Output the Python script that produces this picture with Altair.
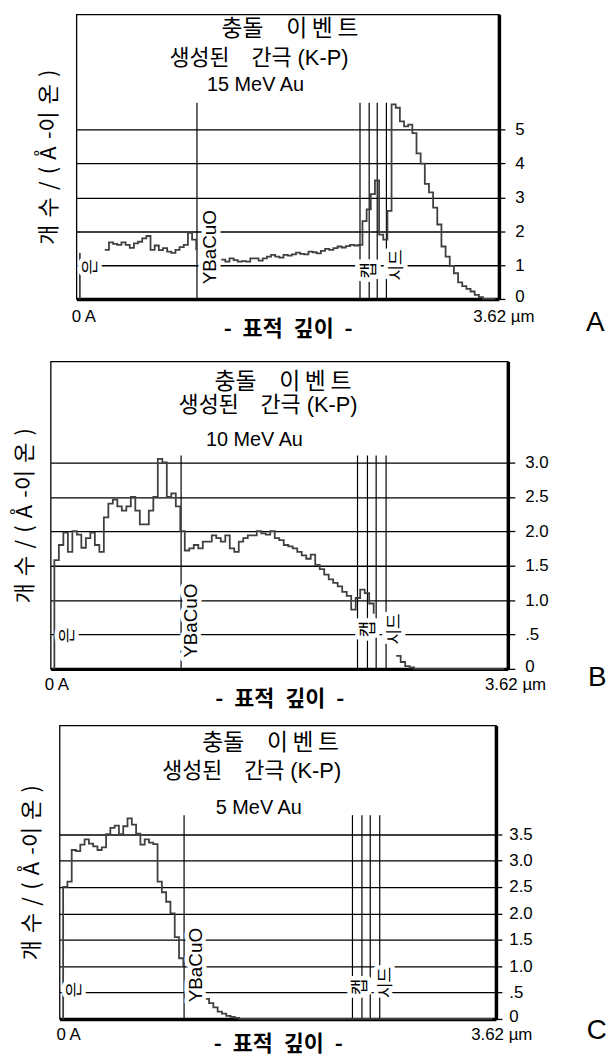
import altair as alt
import pandas as pd

DEPTH_MAX = 3.62
N_BINS = 100
BIN_W = DEPTH_MAX / N_BINS

# ---- histogram values (vacancies per Angstrom-ion), 100 depth bins; None = hidden under a label
a_vals = [1.36, None, None, None, None, None, 1.45, 1.67, 1.63, 1.60,
          1.67, 1.60, 1.51, 1.64, 1.69, 1.79, 1.86, 1.45, 1.58, 1.44,
          1.50, 1.40, 1.36, 1.45, 1.53, 1.60, 1.95, 1.75, 1.44, None,
          None, None, None, None, 1.16, 1.10, 1.20, 1.15, 1.10, 1.12,
          1.10, 1.20, 1.20, 1.13, 1.20, 1.25, 1.30, 1.25, 1.22, 1.30,
          1.28, 1.32, 1.37, 1.33, 1.32, 1.40, 1.38, 1.35, 1.42, 1.48,
          1.45, 1.50, 1.55, 1.52, 1.56, 1.60, 1.58, 1.60, 2.30, 2.65,
          3.10, 3.50, 1.90, 1.75, 2.60, 5.75, 5.65, 5.25, 5.10, 5.15,
          4.90, 4.30, 4.00, 3.40, 3.15, 2.70, 2.20, 1.55, 1.25, 0.98,
          0.76, 0.49, 0.38, 0.30, 0.22, 0.12, 0.05, 0.0, 0.0, 0.0]

b_vals = [1.58, 1.80, 1.98, 1.70, 2.00, 1.95, 1.76, 1.90, 1.98, 1.80,
          1.70, 2.20, 2.40, 2.46, 2.36, 2.30, 2.36, 2.50, 2.30, 2.10,
          2.10, 2.30, 2.50, 3.05, 3.00, 2.50, 2.55, 2.36, 2.00, 1.72,
          1.75, 1.80, 1.75, 1.85, 1.85, 1.94, 1.90, 1.85, 1.94, 1.75,
          1.70, 1.85, 1.90, 1.94, 1.94, 2.00, 1.97, 1.95, 2.00, 1.90,
          1.87, 1.80, 1.78, 1.75, 1.70, 1.65, 1.60, 1.66, 1.51, 1.45,
          1.37, 1.30, 1.25, 1.20, 1.12, 1.06, 0.86, 1.03, 1.15, 1.10,
          0.95, 0.80, None, None, None, None, 0.19, 0.10, 0.04, 0.02,
          0.0, 0.0, 0.0, 0.0, 0.0, 0.0, 0.0, 0.0, 0.0, 0.0,
          0.0, 0.0, 0.0, 0.0, 0.0, 0.0, 0.0, 0.0, 0.0, 0.0]

c_vals = [2.50, 2.60, 3.20, 3.18, 3.30, 3.40, 3.32, 3.27, 3.20, 3.25,
          3.50, 3.62, 3.66, 3.50, 3.65, 3.80, 3.68, 3.51, 3.30, 3.40,
          3.34, 3.31, 2.60, 2.40, 2.22, 2.00, 1.55, 1.15, 1.00, None,
          None, None, None, 0.38, 0.30, 0.22, 0.14, 0.10, 0.06, 0.04,
          0.02, 0.0, 0.0, 0.0, 0.0, 0.0, 0.0, 0.0, 0.0, 0.0,
          0.0, 0.0, 0.0, 0.0, 0.0, 0.0, 0.0, 0.0, 0.0, 0.0,
          0.0, 0.0, 0.0, 0.0, 0.0, 0.0, 0.0, 0.0, 0.0, 0.0,
          0.0, 0.0, 0.0, 0.0, 0.0, 0.0, 0.0, 0.0, 0.0, 0.0,
          0.0, 0.0, 0.0, 0.0, 0.0, 0.0, 0.0, 0.0, 0.0, 0.0,
          0.0, 0.0, 0.0, 0.0, 0.0, 0.0, 0.0, 0.0, 0.0, 0.0]

# ---- layer boundaries (um) and the height the boundary lines reach
layer_bounds = [1.02, 2.44, 2.52, 2.59, 2.67]
a_bound_top, b_bound_top, c_bound_top = 5.8, 3.1, 3.86

# ---- layer labels
layer_names = ["은", "YBaCuO", "캡", "시드"]
layer_sizes = [17, 19, 18, 17]
a_lab_x = [0.10, 1.13, 2.53, 2.76]
a_lab_y = [0.95, 1.53, 0.85, 1.00]
b_lab_x = [0.11, 1.10, 2.53, 2.74]
b_lab_y = [0.49, 0.70, 0.58, 0.58]
c_lab_x = [0.10, 1.12, 2.51, 2.72]
c_lab_y = [0.56, 1.02, 0.61, 0.69]

# ---- in-plot titles
title_line1 = "충돌\u2003이\u2009벤\u2009트"
title_line2 = "생성된\u2003간극 (K-P)"
energies = ["15 MeV Au", "10 MeV Au", "5 MeV Au"]
title_sizes = [23, 22, 20]
a_title_x = [1.83, 1.56, 1.53]
a_title_y = [7.97, 7.13, 6.33]
b_title_x = [1.84, 1.72, 1.61]
b_title_y = [4.17, 3.84, 3.33]
c_title_x = [1.75, 1.59, 1.65]
c_title_y = [5.22, 4.70, 3.99]

y_title = "개\u2004수\u2004/\u2004(\u2004Å\u2004-이\u2004온\u2004)"
x_title = "-\u2002표적\u2002깊이\u2002-"

# ---- axis ticks
a_ticks = [0, 1, 2, 3, 4, 5]
b_ticks = [0, 0.5, 1.0, 1.5, 2.0, 2.5, 3.0]
c_ticks = [0, 0.5, 1.0, 1.5, 2.0, 2.5, 3.0, 3.5]

panel_letters = ["A", "B", "C"]
letter_x = [4.49, 4.37, 4.50]
letter_y = [-0.70, -0.13, -0.225]

SANS = "Liberation Sans, Noto Sans CJK KR"
KR = "Noto Sans CJK KR"
X_DOMAIN = [-0.03, 3.65]


def series_table(vals):
    rows = [dict(i=0, x=0.0, v=0.0, seg=0)]
    seg, k, gap = 0, 1, False
    for b, v in enumerate(vals):
        if v is None:
            if not gap:
                seg += 1
            gap = True
            continue
        gap = False
        rows.append(dict(i=k, x=b * BIN_W, v=v, seg=seg))
        k += 1
    rows.append(dict(i=k, x=DEPTH_MAX, v=vals[-1], seg=seg))
    return pd.DataFrame(rows)


def panel(vals, bound_top, ticks, ymax, width, height, lab_x, lab_y,
          title_x, title_y, energy, letter, lx, ly, tick_size, lab_pad,
          xlab_pad, xtitle_y, off0, off1, one_decimal, ytitle_pad):
    xs = alt.Scale(domain=X_DOMAIN, nice=False, zero=False)
    ys = alt.Scale(domain=[0, ymax], nice=False, zero=False)
    x_axis = alt.Axis(
        values=[0, DEPTH_MAX],
        labelExpr="datum.value == 0 ? '0 A' : '3.62 µm'",
        labelFont="Liberation Sans", labelFontSize=17, labelColor="black",
        labelPadding=xlab_pad, labelFlush=False,
        labelOffset={"condition": {"test": "datum.value > 1", "value": off1}, "value": off0},
        ticks=False, tickSize=0, grid=False,
        domain=True, domainColor="black", domainWidth=3.5,
        title=x_title, titleFont=KR, titleFontSize=22, titleFontWeight="bold",
        titleColor="black", titleY=xtitle_y, titleBaseline="middle")
    lab_expr = ("datum.value == 0 ? '0' : (datum.value == 0.5 ? '.5' : format(datum.value, '.1f'))"
                if one_decimal else "format(datum.value, 'd')")
    right_axis = alt.Axis(
        orient="right", values=ticks, labelExpr=lab_expr,
        grid=True, gridColor="black", gridWidth=1.3, gridOpacity=1,
        ticks=True, tickSize=tick_size, tickColor="black", tickWidth=1.3,
        domain=True, domainColor="black", domainWidth=3.5,
        labelFont="Liberation Sans", labelFontSize=17, labelColor="black",
        labelPadding=lab_pad, labelFlush=False, labelOverlap=False,
        labelOffset={"condition": {"test": "datum.value == 0", "value": -2}, "value": 0},
        title=None)
    left_axis = alt.Axis(
        orient="left", title=y_title, labels=False, ticks=False,
        domain=False, grid=False, minExtent=0, titlePadding=ytitle_pad,
        titleFont=KR, titleFontSize=22, titleFontWeight="normal", titleColor="black")

    def X(f):
        return alt.X(f, type="quantitative", scale=xs, axis=x_axis)

    line = alt.Chart(series_table(vals)).mark_line(
        interpolate="step-after", color="#404040", strokeWidth=1.8
    ).encode(x=X("x"), y=alt.Y("v:Q", scale=ys, axis=right_axis),
             detail="seg:N", order="i:Q")

    bdf = pd.DataFrame({"x": layer_bounds, "y0": [0.0] * len(layer_bounds),
                        "y1": [bound_top] * len(layer_bounds)})
    rules = alt.Chart(bdf).mark_rule(color="black", strokeWidth=1.2).encode(
        x=X("x"), y=alt.Y("y0:Q", scale=ys, axis=left_axis), y2="y1:Q")

    ldf = pd.DataFrame({"t": layer_names, "x": lab_x, "y": lab_y, "fs": layer_sizes})
    lab_enc = dict(x=X("x"), y=alt.Y("y:Q", scale=ys, axis=None), text="t:N",
                   size=alt.Size("fs:Q", scale=None, legend=None))
    halo = alt.Chart(ldf).mark_text(
        angle=270, font=SANS, color="white", stroke="white", strokeWidth=9,
        strokeJoin="round", baseline="middle", align="center").encode(**lab_enc)
    labels = alt.Chart(ldf).mark_text(
        angle=270, font=SANS, color="black", baseline="middle", align="center"
    ).encode(**lab_enc)

    tdf = pd.DataFrame({"t": [title_line1, title_line2, energy], "x": title_x,
                        "y": title_y, "fs": title_sizes})
    titles = alt.Chart(tdf).mark_text(
        font=SANS, color="black", baseline="middle", align="center").encode(
        x=X("x"), y=alt.Y("y:Q", scale=ys, axis=None), text="t:N",
        size=alt.Size("fs:Q", scale=None, legend=None))

    pdf = pd.DataFrame({"t": [letter], "x": [lx], "y": [ly]})
    letter_mark = alt.Chart(pdf).mark_text(
        font="Liberation Sans", fontSize=28, color="black", baseline="middle",
        align="center").encode(x=X("x"), y=alt.Y("y:Q", scale=ys, axis=None), text="t:N")

    return alt.layer(rules, line, halo, labels, titles, letter_mark).resolve_axis(
        y="independent").properties(
        width=width, height=height,
        view=alt.ViewBackground(stroke="black", strokeWidth=1.3))


def spacer(w, h):
    return alt.Chart(pd.DataFrame({"z": []})).mark_point().properties(width=w, height=h)


pA = panel(a_vals, a_bound_top, a_ticks, 8.41, 426, 287, a_lab_x, a_lab_y,
           a_title_x, a_title_y, energies[0], panel_letters[0], letter_x[0], letter_y[0],
           6, 10, 10, 30, 3.5, 8, False, 16)
pB = panel(b_vals, b_bound_top, b_ticks, 4.467, 461, 310, b_lab_x, b_lab_y,
           b_title_x, b_title_y, energies[1], panel_letters[1], letter_x[1], letter_y[1],
           7, 10, 8, 30, 2, 11, True, 14)
pC = panel(c_vals, c_bound_top, c_ticks, 5.56, 440, 296, c_lab_x, c_lab_y,
           c_title_x, c_title_y, energies[2], panel_letters[2], letter_x[2], letter_y[2],
           6, 7, 8, 25, 5, 9, True, 16)

rowA = alt.hconcat(spacer(29, 349), pA, spacing=0)
rowB = alt.hconcat(spacer(5, 366), pB, spacing=0)
rowC = alt.hconcat(spacer(12, 1), pC, spacing=0)

chart = alt.vconcat(rowA, rowB, rowC, spacing=0).properties(
    padding={"left": 0, "top": 1, "right": 0, "bottom": 0}
).configure(font="Liberation Sans").configure_view(stroke="transparent")

chart.save("out.html", embed_options={"renderer": "svg", "actions": False})
